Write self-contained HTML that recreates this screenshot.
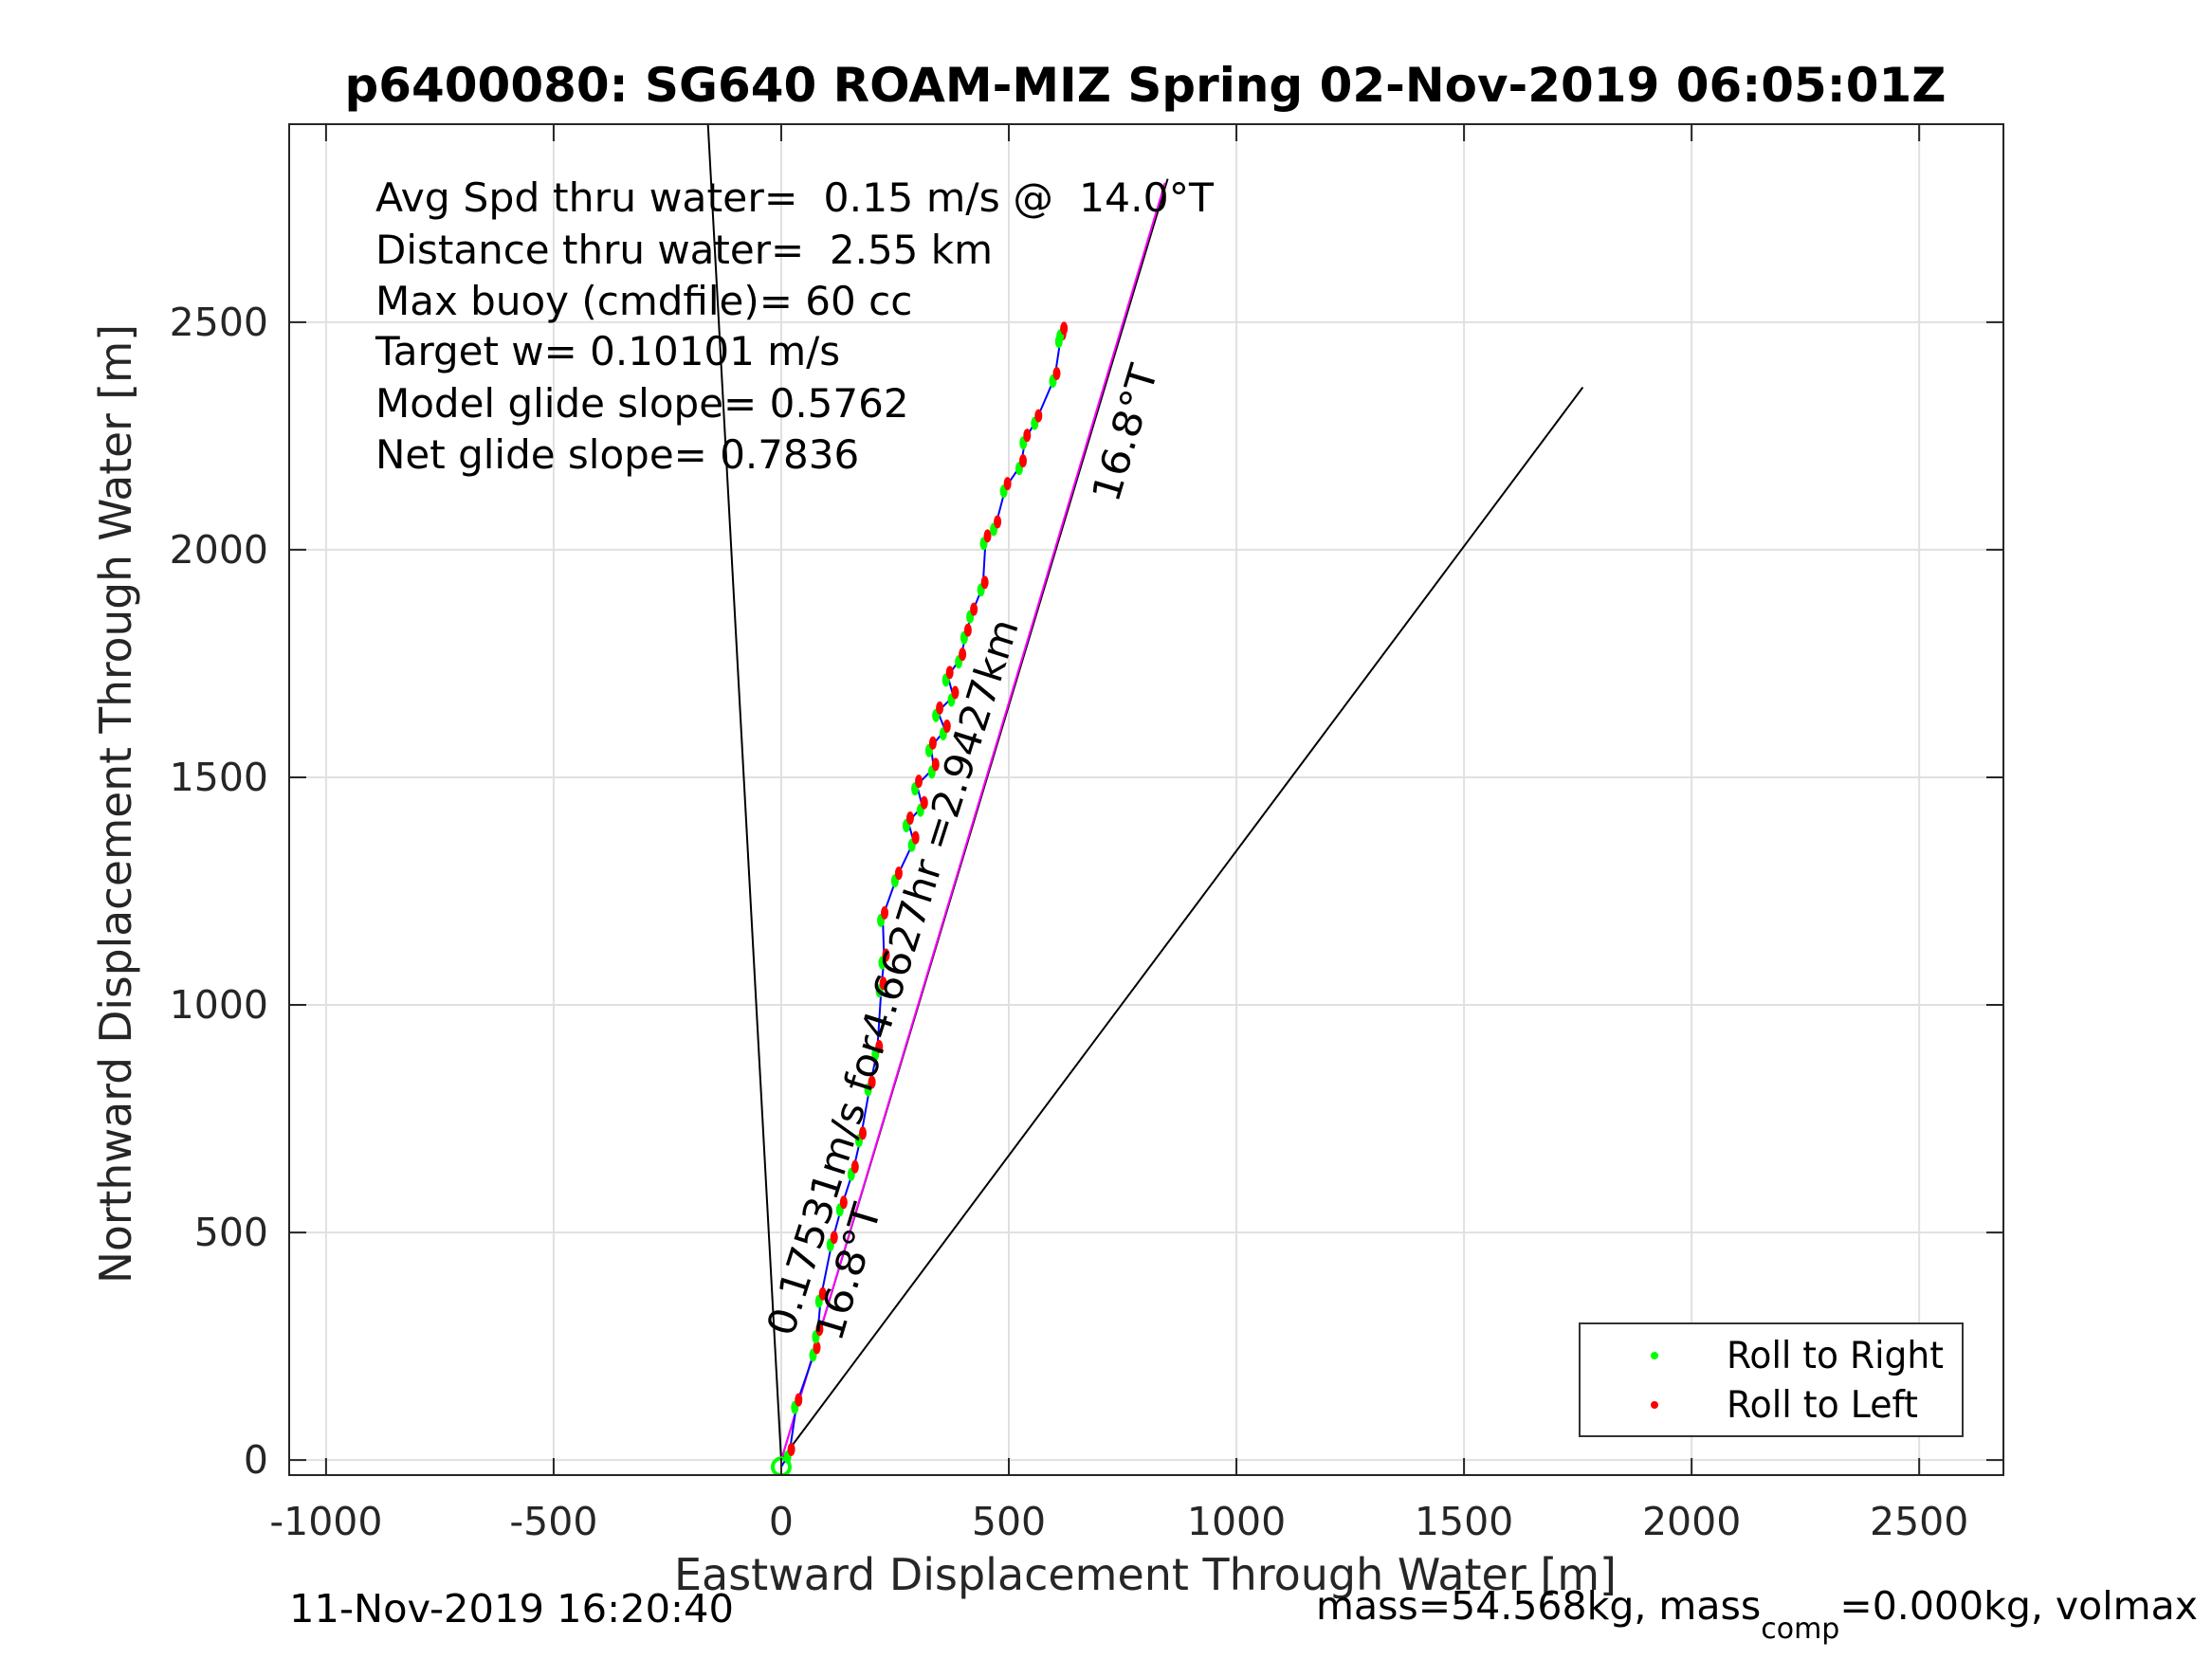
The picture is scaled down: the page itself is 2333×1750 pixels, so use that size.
<!DOCTYPE html>
<html><head><meta charset="utf-8"><style>
html,body{margin:0;padding:0;background:#fff}
svg{display:block;font-family:"DejaVu Sans","Liberation Sans",sans-serif}
</style></head><body>
<svg id="chart" width="2333" height="1750" viewBox="0 0 2333 1750" xmlns="http://www.w3.org/2000/svg">
<rect width="2333" height="1750" fill="#fff"/>
<defs><clipPath id="pc"><rect x="305" y="131" width="1808" height="1425"/></clipPath></defs>
<g id="grid"></g>
<g id="lines" clip-path="url(#pc)"></g>
<g id="axes"></g>
<text x="1208" y="107" text-anchor="middle" font-size="50" font-weight="bold" textLength="1689" lengthAdjust="spacingAndGlyphs">p6400080: SG640 ROAM-MIZ Spring 02-Nov-2019 06:05:01Z</text>
<g font-size="42" fill="#000">
<text x="396" y="223" textLength="884" lengthAdjust="spacingAndGlyphs" xml:space="preserve">Avg Spd thru water=  0.15 m/s @  14.0°T</text>
<text x="396" y="278" xml:space="preserve">Distance thru water=  2.55 km</text>
<text x="396" y="332">Max buoy (cmdfile)= 60 cc</text>
<text x="396" y="385">Target w= 0.10101 m/s</text>
<text x="396" y="440">Model glide slope= 0.5762</text>
<text x="396" y="494">Net glide slope= 0.7836</text>
</g>
<text x="138" y="848" transform="rotate(-90 138 848)" text-anchor="middle" font-size="46" fill="#262626" textLength="1012" lengthAdjust="spacingAndGlyphs">Northward Displacement Through Water [m]</text>
<text x="1208" y="1677" text-anchor="middle" font-size="46" fill="#262626" textLength="994" lengthAdjust="spacingAndGlyphs">Eastward Displacement Through Water [m]</text>
<text x="305" y="1711" font-size="41" textLength="469" lengthAdjust="spacingAndGlyphs">11-Nov-2019 16:20:40</text>
<text x="1388" y="1708" font-size="41">mass=54.568kg, mass<tspan font-size="30" dy="20">comp</tspan><tspan dy="-20">=0.000kg, volmax</tspan></text>
<g id="legend">
<rect x="1666" y="1396" width="404" height="119" fill="#fff" stroke="#333" stroke-width="2"/>
<circle cx="1745" cy="1430" r="4" fill="#00ff00"/>
<text x="1821" y="1443" font-size="39" textLength="229" lengthAdjust="spacingAndGlyphs">Roll to Right</text>
<circle cx="1745" cy="1482" r="4" fill="#ff0000"/>
<text x="1821" y="1495" font-size="39" textLength="202" lengthAdjust="spacingAndGlyphs">Roll to Left</text>
</g>
</svg>
<script>
const xTicks=[-1000,-500,0,500,1000,1500,2000,2500];
const yTicks=[0,500,1000,1500,2000,2500];
const trackX=[0,18,34,74,80,87,112,133,158,175,195,211,220,226,223,254,291,279,310,298,335,329,360,344,378,366,394,406,419,443,449,471,493,527,536,561,601,614,617];
const trackY=[-15,15,124,239,279,357,481,558,636,710,822,900,1039,1101,1194,1281,1359,1402,1436,1483,1520,1567,1604,1644,1678,1722,1762,1815,1861,1920,2022,2053,2137,2187,2243,2286,2379,2466,2478];
const lineEndsX=[-161,849,1761];
const lineEndsY=[2935,2815,2357];
const magentaEnd=[843,2806];
const X0=-1081,X1=2685,Y0=-33,Y1=2935;
const L=305,R=2113,T=131,B=1556;
function sx(v){return L+(v-X0)/(X1-X0)*(R-L);}
function sy(v){return B-(v-Y0)/(Y1-Y0)*(B-T);}
const NS='http://www.w3.org/2000/svg';
function mk(tag,attrs,parent){const e=document.createElementNS(NS,tag);for(const k in attrs)e.setAttribute(k,attrs[k]);parent.appendChild(e);return e;}
const grid=document.getElementById('grid'),axes=document.getElementById('axes'),lines=document.getElementById('lines');
xTicks.forEach(v=>{
  const g=mk('line',{x1:sx(v),x2:sx(v),y1:T,y2:B,stroke:'#e0e0e0','stroke-width':2},grid);
  
  
  const t1=mk('line',{x1:sx(v),x2:sx(v),y1:B,y2:B-18,stroke:'#262626','stroke-width':2},axes);
  
  
  const t2=mk('line',{x1:sx(v),x2:sx(v),y1:T,y2:T+18,stroke:'#262626','stroke-width':2},axes);
  
  
  const lb=mk('text',{x:sx(v),y:1619,'text-anchor':'middle','font-size':41,fill:'#262626'},axes);
  lb.textContent=v;
  
  
});
yTicks.forEach(v=>{
  const g=mk('line',{x1:L,x2:R,y1:sy(v),y2:sy(v),stroke:'#e0e0e0','stroke-width':2},grid);
  
  
  const t1=mk('line',{x1:L,x2:L+18,y1:sy(v),y2:sy(v),stroke:'#262626','stroke-width':2},axes);
  
  
  const t2=mk('line',{x1:R,x2:R-18,y1:sy(v),y2:sy(v),stroke:'#262626','stroke-width':2},axes);
  
  
  const lb=mk('text',{x:283,y:sy(v)+14,'text-anchor':'end','font-size':41,fill:'#262626'},axes);
  lb.textContent=v;
  
  
});
const box=mk('rect',{x:L,y:T,width:R-L,height:B-T,fill:'none',stroke:'#262626','stroke-width':2},axes);


const names=['heading-line-north','heading-line-168','heading-line-east'];
lineEndsX.forEach((ex,i)=>{
  const l=mk('line',{x1:sx(0),y1:sy(0),x2:sx(ex),y2:sy(lineEndsY[i]),stroke:'#000','stroke-width':2},lines);
  
  
});
const mg=mk('line',{x1:sx(0),y1:sy(0),x2:sx(magentaEnd[0]),y2:sy(magentaEnd[1]),stroke:'#ff00ff','stroke-width':2},lines);


const pts=trackX.map((x,i)=>sx(x)+','+sy(trackY[i])).join(' ');
const tr=mk('polyline',{points:pts,fill:'none',stroke:'#0000ff','stroke-width':2},lines);


trackX.forEach((x,i)=>{
  if(i===0)return;
  const cx=sx(x),cy=sy(trackY[i]);
  const g=mk('ellipse',{cx:cx-2,cy:cy+4,rx:4,ry:7,fill:'#00ff00'},lines);
  
  
  const r=mk('ellipse',{cx:cx+2,cy:cy-4,rx:4,ry:7,fill:'#ff0000'},lines);
  
  
});
const sc=mk('circle',{cx:sx(trackX[0]),cy:sy(trackY[0]),r:9,fill:'none',stroke:'#00ff00','stroke-width':4},lines);


function rlab(txt,x,y,ang,name,len){
  const t=mk('text',{x:x,y:y,'text-anchor':'middle','font-size':41,transform:`rotate(${ang} ${x} ${y})`,textLength:len,lengthAdjust:'spacingAndGlyphs'},document.getElementById('chart'));
  t.textContent=txt;
  
  
}
rlab('16.8°T',1200,461,-73.2,'heading-label-top',148);
rlab('16.8°T',908,1346,-73.2,'heading-label-bottom',148);
rlab('0.17531m/s for4.6627hr =2.9427km',955,1035,-72.4,'current-label',790);
</script>
</body></html>
